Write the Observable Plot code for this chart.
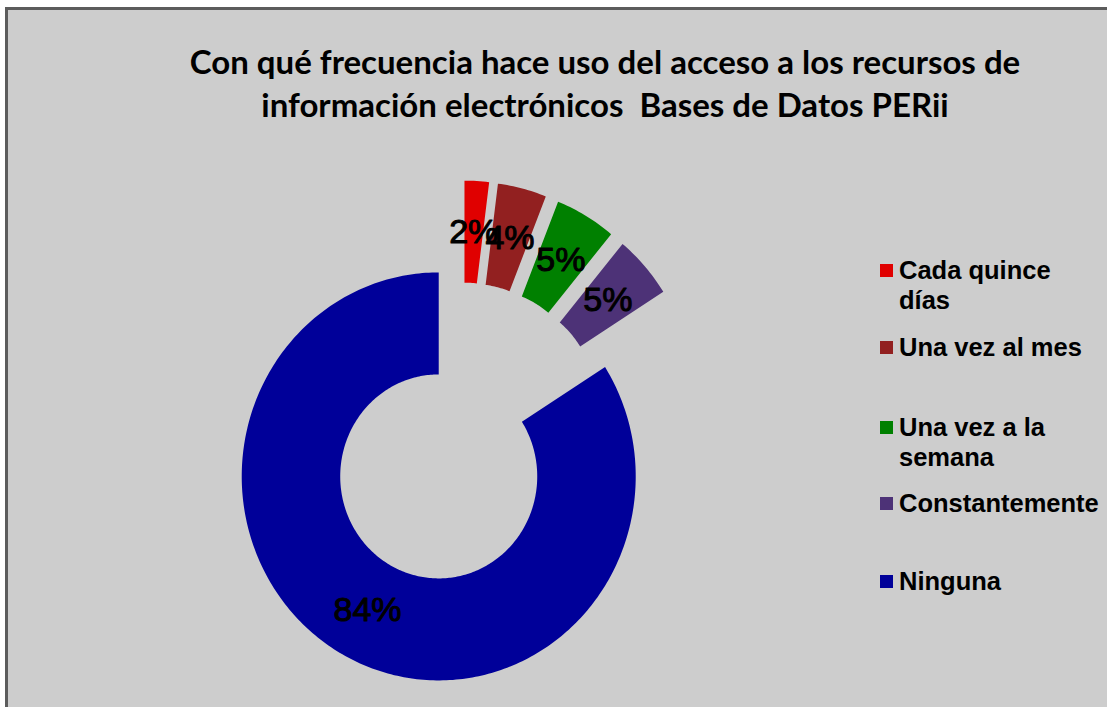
<!DOCTYPE html>
<html><head><meta charset="utf-8">
<script src="https://cdn.jsdelivr.net/npm/d3@7"></script>
<script src="https://cdn.jsdelivr.net/npm/@observablehq/plot@0.6"></script>
<style>
html,body{margin:0;padding:0;background:#fff;}
#page{position:relative;width:1107px;height:707px;overflow:hidden;background:#fff;}
#frame{position:absolute;left:5px;top:7px;width:1120px;height:720px;background:#cdcdcd;border-left:3px solid #5c5c5c;border-top:3px solid #5c5c5c;}
#title{position:absolute;left:0;width:1210px;top:40px;text-align:center;font-family:Lato,"Open Sans",sans-serif;font-weight:bold;font-size:33px;line-height:43px;color:#000;}
#chart{position:absolute;left:0;top:0;}
#legend{position:absolute;left:0;top:0;font-family:"Liberation Sans",Arial,sans-serif;font-weight:bold;font-size:25.5px;line-height:30px;color:#000;}
.item{position:absolute;left:880px;white-space:nowrap;}
.sw{position:absolute;left:0;top:9px;width:13px;height:13px;}
.lab{position:absolute;left:19px;top:0;}
</style></head>
<body><div id="page"><div id="frame"></div><div id="chart"></div>
<div id="title">Con qué frecuencia hace uso del acceso a los recursos de<br>información electrónicos&nbsp; Bases de Datos PERii</div>
<div id="legend"></div></div>
<script>
const categories = ["Cada quince días", "Una vez al mes", "Una vez a la semana", "Constantemente", "Ninguna"];
const values = [2, 4, 5, 5, 84];
const labels = ["2%", "4%", "5%", "5%", "84%"];
const colors = ["#e00000", "#922020", "#008000", "#4d3277", "#000099"];
const legendLines = [["Cada quince", "días"], ["Una vez al mes"], ["Una vez a la", "semana"], ["Constantemente"], ["Ninguna"]];

const innerR = 0.5, explode = 0.24, labelR = 0.75;
const arcs = d3.pie().sort(null).value(d => d.v)(categories.map((c, i) => ({c, v: values[i], label: labels[i]})));
const polys = [];
const textPts = [];
for (const a of arcs) {
  const mid = (a.startAngle + a.endAngle) / 2;
  const ox = explode * Math.sin(mid), oy = explode * Math.cos(mid);
  const n = Math.max(8, Math.ceil((a.endAngle - a.startAngle) * 60));
  const pts = [];
  for (let k = 0; k <= n; k++) {
    const t = a.startAngle + (a.endAngle - a.startAngle) * k / n;
    pts.push({cat: a.data.c, x: ox + Math.sin(t), y: oy + Math.cos(t)});
  }
  for (let k = n; k >= 0; k--) {
    const t = a.startAngle + (a.endAngle - a.startAngle) * k / n;
    pts.push({cat: a.data.c, x: ox + innerR * Math.sin(t), y: oy + innerR * Math.cos(t)});
  }
  polys.push(...pts);
  textPts.push({x: ox + labelR * Math.sin(mid), y: oy + labelR * Math.cos(mid), text: a.data.label});
}

const chart = Plot.plot({
  width: 1107, height: 707, margin: 0,
  x: {domain: [-461 / 197, (1107 - 461) / 197], axis: null},
  y: {domain: [-(707 - 433) / 204, 433 / 204], axis: null},
  color: {type: "ordinal", domain: categories, range: colors},
  style: {background: "transparent", overflow: "visible"},
  marks: [
    Plot.line(polys, {x: "x", y: "y", z: "cat", fill: "cat", stroke: "none", curve: "linear-closed"}),
    Plot.text(textPts, {x: "x", y: "y", text: "text", fontSize: 34, fill: "#000", stroke: "#000", strokeWidth: 1, fontFamily: "Liberation Sans, Arial, sans-serif"})
  ]
});
document.getElementById("chart").appendChild(chart);

const legendTops = [255, 332, 412, 488, 566];
const leg = document.getElementById("legend");
categories.forEach((c, i) => {
  const d = document.createElement("div");
  d.className = "item";
  d.style.top = legendTops[i] + "px";
  d.innerHTML = `<div class="sw" style="background:${colors[i]}"></div><div class="lab">${legendLines[i].join("<br>")}</div>`;
  leg.appendChild(d);
});
</script></body></html>
